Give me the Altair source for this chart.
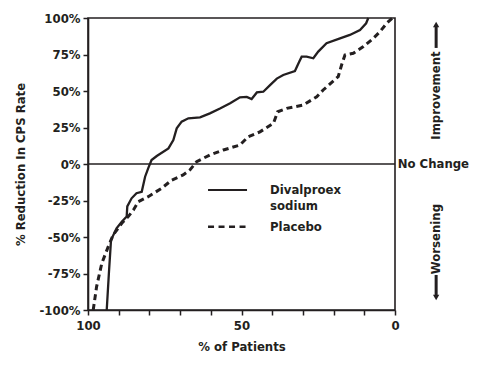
import altair as alt
import pandas as pd

FONT = "DejaVu Sans Condensed, Liberation Sans Narrow, Arial Narrow, sans-serif"
INK = "#231f20"

# Divalproex sodium curve (% of patients, % reduction)
div_x = [93.9, 93.2, 92.5, 90.7, 89.0, 87.4, 87.2, 85.8, 84.2, 82.5, 81.4, 80.4, 79.3, 77.6,
         73.8, 72.2, 71.1, 69.5, 67.3, 63.5, 60.3, 57.0, 53.7, 50.5, 48.3, 46.7, 45.0, 42.9,
         40.7, 38.5, 36.4, 32.6, 31.2, 30.4, 28.8, 26.6, 25.0, 22.3, 17.9, 14.7, 11.4, 9.4, 8.7]
div_y = [-100, -75, -52, -44, -39.5, -36, -29, -23.5, -20, -19, -8.7, -3, 2.7, 5.5,
         10.7, 16.4, 24.4, 29, 31.3, 32, 34.7, 38, 41.6, 45.7, 46, 44.5, 49, 49.5,
         54, 58.5, 61, 63.7, 70, 73.5, 73.5, 72.4, 77, 82.7, 86, 88.4, 91.8, 96.4, 100]

# Placebo curve
pla_x = [98.3, 97.2, 95.5, 93.4, 91.8, 89.0, 86.9, 85.2, 83.6, 80.4, 76.0, 72.7, 69.0, 66.8,
         64.6, 60.3, 55.9, 50.5, 47.8, 44.0, 39.6, 38.2, 35.3, 29.9, 25.5, 23.4, 18.5, 17.4,
         16.3, 13.6, 10.3, 7.1, 4.9, 2.7, 0.8]
pla_y = [-100, -84, -68, -56.6, -48.6, -40.6, -36, -31.5, -25.8, -22.4, -16.6, -11, -7.5, -4,
         1.6, 6.2, 9.6, 13, 18.7, 22, 27.9, 35.8, 38.1, 40.4, 46, 50.7, 59.8, 67.8,
         74.7, 75.8, 80.4, 86, 90.6, 96.4, 100]

x_ticks = [100, 90, 80, 70, 60, 50, 40, 30, 20, 10, 0]
y_ticks = [-100, -75, -50, -25, 0, 25, 50, 75, 100]

div_df = pd.DataFrame({"x": div_x, "y": div_y, "i": range(len(div_x))})
pla_df = pd.DataFrame({"x": pla_x, "y": pla_y, "i": range(len(pla_x))})

xs = alt.Scale(domain=[100, 0], nice=False, zero=False)
ys = alt.Scale(domain=[-100, 100], nice=False)

xaxis = alt.Axis(values=x_ticks, labelExpr="datum.value % 50 == 0 ? datum.value : ''",
                 title="% of Patients", grid=False, tickSize=5, labelPadding=4,
                 titlePadding=8, labelOverlap=False, labelFlush=False, tickCount=11)
yaxis = alt.Axis(values=y_ticks, labelExpr="datum.value + '%'",
                 title="% Reduction In CPS Rate", grid=False, tickSize=5, labelPadding=3,
                 titlePadding=12, labelOverlap=False, labelFlush=False, tickCount=9)

X = alt.X("x:Q", scale=xs, axis=xaxis)
Y = alt.Y("y:Q", scale=ys, axis=yaxis)

div_line = alt.Chart(div_df).mark_line(color=INK, strokeWidth=2.3).encode(
    x=X, y=Y, order="i:Q")
pla_line = alt.Chart(pla_df).mark_line(color=INK, strokeWidth=3, strokeDash=[6, 4]).encode(
    x=X, y=Y, order="i:Q")

zero_df = pd.DataFrame({"x": [100], "x2": [0], "y": [0]})
zero_line = alt.Chart(zero_df).mark_rule(color=INK, strokeWidth=1.6).encode(
    x=X, x2="x2:Q", y=Y)

# legend
leg_lines = pd.DataFrame({"x": [60.9, 60.9], "x2": [48.2, 48.2], "y": [-17.8, -42.9],
                          "s": ["solid", "dash"]})
leg_solid = alt.Chart(leg_lines[leg_lines.s == "solid"]).mark_rule(color=INK, strokeWidth=2).encode(
    x=X, x2="x2:Q", y=Y)
leg_dash = alt.Chart(leg_lines[leg_lines.s == "dash"]).mark_rule(
    color=INK, strokeWidth=2.5, strokeDash=[6, 4.5]).encode(
    x=X, x2="x2:Q", y=Y)
leg_text_df = pd.DataFrame({"x": [40.7, 40.7, 40.7], "y": [-17.8, -28.6, -42.9],
                            "t": ["Divalproex", "sodium", "Placebo"]})
leg_text = alt.Chart(leg_text_df).mark_text(
    align="left", baseline="middle", font=FONT, fontSize=13, fontWeight="bold", color=INK).encode(
    x=X, y=Y, text="t:N")

# right-side annotations
nc_df = pd.DataFrame({"x": [-12.5], "y": [0], "t": ["No Change"]})
nc_text = alt.Chart(nc_df).mark_text(
    align="center", baseline="middle", font=FONT, fontSize=13, fontWeight="bold", color=INK).encode(
    x=X, y=Y, text="t:N")
rot_df = pd.DataFrame({"x": [-13.4, -13.4], "y": [46.9, -51.4], "t": ["Improvement", "Worsening"]})
rot_text = alt.Chart(rot_df).mark_text(
    align="center", baseline="middle", angle=270, font=FONT, fontSize=13, fontWeight="bold",
    color=INK).encode(x=X, y=Y, text="t:N")

arrow_df = pd.DataFrame({"x": [-13.4, -13.4], "y": [79.5, -76.0], "y2": [94.5, -90.5]})
arrow_shaft = alt.Chart(arrow_df).mark_rule(color=INK, strokeWidth=3).encode(
    x=X, y=Y, y2="y2:Q")
head_df = pd.DataFrame({"x": [-13.4, -13.4], "y": [95.5, -91.5], "shape": ["triangle-up", "triangle-down"]})
arrow_head = alt.Chart(head_df).mark_point(filled=True, color=INK, opacity=1, size=40).encode(
    x=X, y=Y, shape=alt.Shape("shape:N", scale=None, legend=None))

chart = alt.layer(
    div_line, pla_line, zero_line, leg_solid, leg_dash, leg_text,
    nc_text, rot_text, arrow_shaft, arrow_head
).properties(
    width=307, height=292,
    autosize=alt.AutoSizeParams(type="none"),
    padding={"left": 80, "top": 10, "right": 75, "bottom": 50},
    background="white",
).configure_view(
    stroke=INK, strokeWidth=1.6
).configure_axis(
    labelFont=FONT, titleFont=FONT, labelFontSize=13, titleFontSize=13,
    labelFontWeight="bold", titleFontWeight="bold", labelColor=INK, titleColor=INK,
    domainColor=INK, tickColor=INK, domainWidth=1.6, tickWidth=1.5
)

chart.save("out.html", embed_options={"renderer": "svg", "actions": False})
